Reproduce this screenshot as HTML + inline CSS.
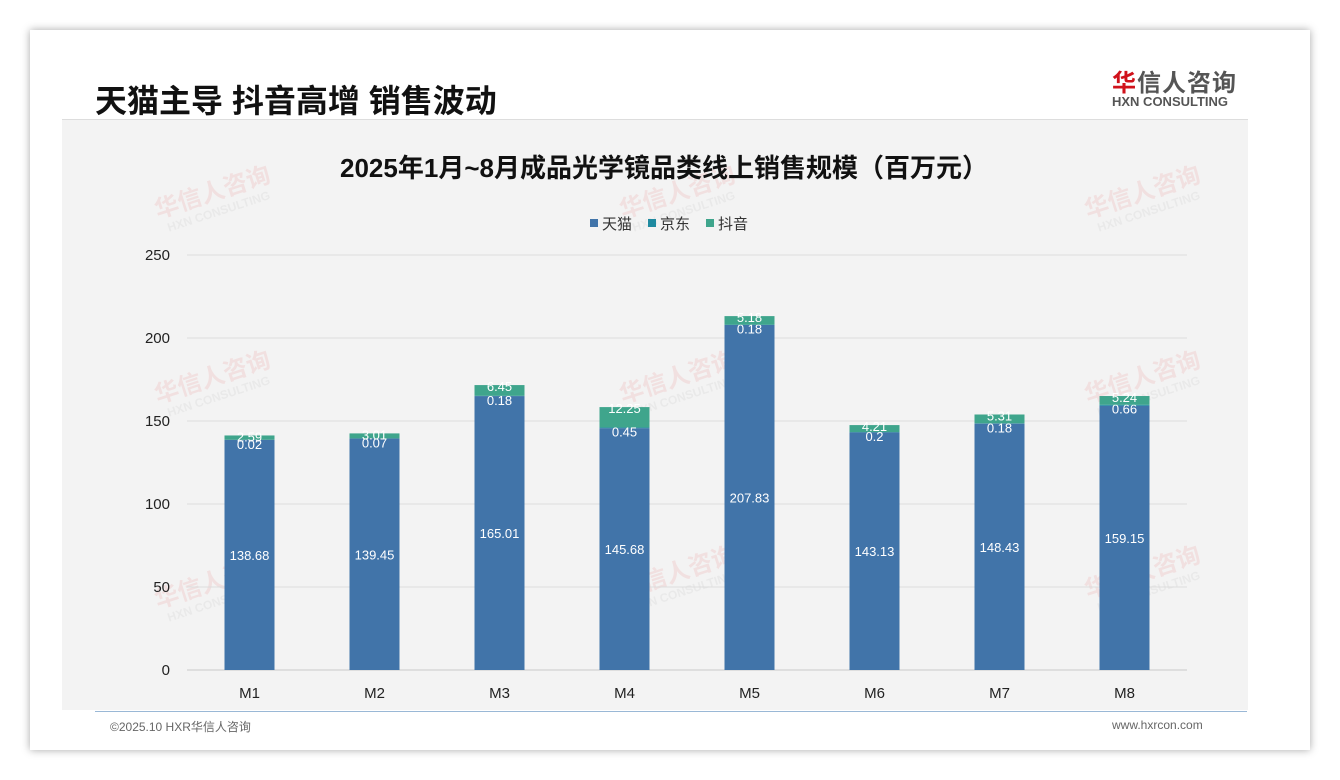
<!DOCTYPE html>
<html><head><meta charset="utf-8"><style>
body{margin:0;width:1340px;height:780px;background:#fff;font-family:"Liberation Sans","Noto Sans CJK SC",sans-serif;position:relative;overflow:hidden}
#card{position:absolute;left:30px;top:30px;width:1280px;height:720px;background:#fff;box-shadow:0 0 8px rgba(0,0,0,.35)}
#body{position:absolute;left:62px;top:120px;width:1186px;height:590px;background:#f3f3f3}
</style></head><body>
<div id="card"></div>
<div id="body"></div>
<div style="position:absolute;left:95px;top:76px;font-size:32px;font-weight:bold;color:#111">天猫主导 抖音高增 销售波动</div>
<div style="position:absolute;left:1112px;top:63px;font-size:24px;font-weight:bold;color:#555;letter-spacing:1px"><span style="color:#d0121b">华</span>信人咨询</div>
<div style="position:absolute;left:1112px;top:94px;font-size:13px;font-weight:bold;color:#555">HXN CONSULTING</div>
<div style="position:absolute;left:62px;top:119px;width:1186px;height:1px;background:#ddd"></div>
<div style="position:absolute;left:95px;top:711px;width:1152px;height:1px;background:#9ab8d6"></div>
<div style="position:absolute;left:110px;top:718px;font-size:12px;color:#666">©2025.10 HXR华信人咨询</div>
<div style="position:absolute;left:1112px;top:718px;font-size:12px;color:#666">www.hxrcon.com</div>
<svg id="chart" width="1340" height="780" style="position:absolute;left:0;top:0"></svg>
<script>
const categories=["M1","M2","M3","M4","M5","M6","M7","M8"];
const tmall=[138.68,139.45,165.01,145.68,207.83,143.13,148.43,159.15];
const jd=[0.02,0.07,0.18,0.45,0.18,0.2,0.18,0.66];
const douyin=[2.59,3.01,6.45,12.25,5.18,4.21,5.31,5.24];
const ticks=[0,50,100,150,200,250];
const seriesNames=["天猫","京东","抖音"];
const colors=["#4174a9","#1f8aa0","#3fa58c"];
const NS="http://www.w3.org/2000/svg",svg=document.getElementById('chart');
const x0=187,x1=1187,y0=670,yTop=255,vmax=250;
const y=v=>y0-(v/vmax)*(y0-yTop);
const xc=i=>x0+(i+0.5)*(x1-x0)/categories.length;
function mk(t,a,txt){const e=document.createElementNS(NS,t);for(const k in a)e.setAttribute(k,a[k]);if(txt!==undefined)e.textContent=txt;svg.appendChild(e);return e;}
// watermarks
[[215,200],[680,200],[1145,200],[215,385],[680,385],[1145,385],[215,590],[680,580],[1145,580]].forEach(p=>{
 const g=document.createElementNS(NS,'g');
 g.setAttribute('transform',`rotate(-18 ${p[0]} ${p[1]})`);
 g.setAttribute('opacity','0.55');
 
 
 svg.appendChild(g);
 const a=document.createElementNS(NS,'text');a.setAttribute('x',p[0]);a.setAttribute('y',p[1]);a.setAttribute('text-anchor','middle');a.setAttribute('font-size','24');a.setAttribute('font-weight','bold');a.setAttribute('fill','#f0d2d2');a.textContent='华信人咨询';g.appendChild(a);
 const b=document.createElementNS(NS,'text');b.setAttribute('x',p[0]);b.setAttribute('y',p[1]+16);b.setAttribute('text-anchor','middle');b.setAttribute('font-size','12');b.setAttribute('font-weight','bold');b.setAttribute('fill','#e2e2e2');b.textContent='HXN CONSULTING';g.appendChild(b);
});
const title=mk('text',{x:664,y:177,'text-anchor':'middle','font-size':26,'font-weight':'bold',fill:'#111'},'2025年1月~8月成品光学镜品类线上销售规模（百万元）');


ticks.forEach(t=>{
 const l=mk('line',{x1:x0,x2:x1,y1:y(t),y2:y(t),stroke:t===0?'#c8c8c8':'#dcdcdc','stroke-width':1});
 
 
 const tx=mk('text',{x:170,y:y(t)+5,'text-anchor':'end','font-size':15,fill:'#222'},t);
 
 
});
const bw=50;
categories.forEach((c,i)=>{
 const vals=[tmall[i],jd[i],douyin[i]];let acc=0;
 vals.forEach((v,s)=>{
  const r=mk('rect',{x:xc(i)-bw/2,y:y(acc+v),width:bw,height:y(acc)-y(acc+v),fill:colors[s]});
  
  
  const ly=s===0?y(acc+v/2)+5:(s===1?y(acc+v)+9:y(acc+v)+6);
  const lb=mk('text',{x:xc(i),y:ly,'text-anchor':'middle','font-size':13,fill:'#fff'},v);
  
  
  acc+=v;
 });
 const xl=mk('text',{x:xc(i),y:698,'text-anchor':'middle','font-size':15,fill:'#222'},c);
 
 
});
let lx=590;
seriesNames.forEach((n,s)=>{
 const sq=mk('rect',{x:lx,y:219,width:8,height:8,fill:colors[s]});
 
 
 const t=mk('text',{x:lx+12,y:229,'font-size':15,fill:'#333'},n);
 
 
 lx+=58;
});
</script>
</body></html>
